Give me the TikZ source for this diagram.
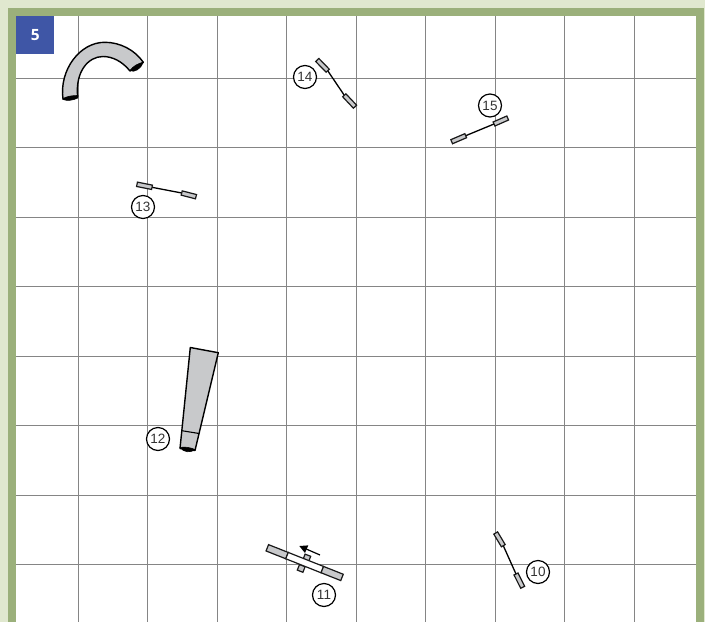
\documentclass[tikz,border=0pt]{standalone}
\usepackage{fontspec}
\setmainfont{Liberation Sans}
\newfontfamily\badgefont{Open Sans}
\usetikzlibrary{calc,arrows.meta}
\definecolor{pagebg}{HTML}{E0E8CF}
\definecolor{frameg}{HTML}{9BB07B}
\definecolor{badgeb}{HTML}{3F56A6}
\definecolor{gridc}{HTML}{858585}
\definecolor{obst}{HTML}{C8C9CB}
\tikzset{
  gridline/.style={draw=gridc,line width=.8pt},
  numlabel/.style={circle,draw=black,fill=white,line width=1.2pt,minimum size=23pt,inner sep=0pt,font=\fontsize{13.5}{15}\selectfont,text=black!80},
  wingbox/.style={draw=black!90,fill=obst,line width=1.2pt,line join=miter},
  polebar/.style={draw=black,line width=1.3pt},
  tube/.style={draw=black,fill=obst,line width=1.4pt,line join=round},
  tubemouth/.style={fill=black,draw=black,line width=.6pt},
}
% a rectangle of half width #4 along the segment from #2 to #3
\newcommand\stripbox[4][wingbox]{\draw[#1] ($(#2)!#4!90:(#3)$) -- ($(#3)!#4!-90:(#2)$) -- ($(#3)!#4!90:(#2)$) -- ($(#2)!#4!-90:(#3)$) -- cycle;}
\newcommand\jumppole[4]{%
  \draw[polebar] (#2) -- (#3);
  \stripbox{#1}{#2}{2.2pt}
  \stripbox{#3}{#4}{2.2pt}}
\begin{document}
\begin{tikzpicture}[x=1pt,y=-1pt]
\useasboundingbox (0,0) rectangle (705,622);
\fill[pagebg] (0,0) rectangle (705,622);
\fill[frameg] (8,8) rectangle (704,622);
\fill[white] (16,16) rectangle (696,622);
% grid
\foreach \gx in {78,147.5,217,286.5,356,425.5,495,564.5,634}
  \draw[gridline] (\gx,16) -- (\gx,622);
\foreach \gy in {78,147.5,217,286.5,356,425.5,495,564.5}
  \draw[gridline] (16,\gy) -- (696,\gy);
% badge
\node[fill=badgeb,text=white,minimum width=38pt,minimum height=37.5pt,inner sep=0pt,anchor=north west,font=\badgefont\bfseries\fontsize{15.5}{17}\selectfont] (badge) at (16,16) {5};
% curved tunnel
\draw[tube] (63,99) .. controls (59,70) and (80,42) .. (105,42.3) .. controls (120,42.3) and (135,50) .. (143.3,62.3)
  -- (130,71) .. controls (122,61) and (112,56.5) .. (103,56.5) .. controls (88,56.5) and (75,72) .. (77.7,97) -- cycle;
\fill[tubemouth] (63,98.5) .. controls (68,96) and (73,95.5) .. (77.7,95.5) -- (77.7,98) .. controls (73,100.5) and (67,101) .. (63,99.5) -- cycle;
\fill[tubemouth] (143.3,62.3) .. controls (139,63) and (133,66) .. (130,70.5) .. controls (134,73) and (141,69) .. (143.3,62.3) -- cycle;
% straight tunnel
\draw[tube] (190.3,347.5) -- (218.3,352.7) -- (195,450.5) -- (180,448.5) -- cycle;
\draw[black,line width=1.1pt] (181.8,430.7) -- (199.2,433.5);
\fill[tubemouth] (180,447.5) .. controls (185,446.5) and (190,447.5) .. (195,449.5) .. controls (191,452.8) and (184,452.8) .. (180,447.5) -- cycle;
% jumps 13, 14, 15, 10
\coordinate (p13a) at (137,184.3); \coordinate (p13b) at (152,187.3); \coordinate (p13c) at (181.7,193); \coordinate (p13d) at (196,196.7);
\jumppole{p13a}{p13b}{p13c}{p13d}
\coordinate (p14a) at (317.3,60); \coordinate (p14b) at (327.7,70.7); \coordinate (p14c) at (344.3,95.3); \coordinate (p14d) at (355,106.7);
\jumppole{p14a}{p14b}{p14c}{p14d}
\coordinate (p15a) at (451.7,141.7); \coordinate (p15b) at (465.7,135.7); \coordinate (p15c) at (494,124); \coordinate (p15d) at (507.7,118);
\jumppole{p15a}{p15b}{p15c}{p15d}
\coordinate (p10a) at (495.7,533); \coordinate (p10b) at (503.3,545.7); \coordinate (p10c) at (516,574); \coordinate (p10d) at (522.7,587.3);
\jumppole{p10a}{p10b}{p10c}{p10d}
% obstacle 11
\coordinate (t1a) at (304,556.9); \coordinate (t1b) at (309.6,559.1);
\coordinate (t2a) at (298.4,567.3); \coordinate (t2b) at (304,569.5);
\stripbox{t1a}{t1b}{3pt}
\stripbox{t2a}{t2b}{3pt}
\coordinate (w1) at (267.3,547.8); \coordinate (w2) at (287,555.6); \coordinate (w3) at (322.3,569.6); \coordinate (w4) at (342,577.4);
\stripbox{w1}{w2}{3.4pt}
\stripbox[wingbox,fill=white]{w2}{w3}{3.4pt}
\stripbox{w3}{w4}{3.4pt}
\coordinate (arrowtail) at (320,555); \coordinate (arrowhead) at (299.3,546);
\draw[black,line width=1.2pt,-{Triangle[length=8pt,width=8pt]}] (arrowtail) -- (arrowhead);
% labels
\node[numlabel] (n10) at (538,572) {10};
\node[numlabel] (n11) at (324,595) {11};
\node[numlabel] (n12) at (158,439) {12};
\node[numlabel] (n13) at (143,207) {13};
\node[numlabel] (n14) at (305,77) {14};
\node[numlabel] (n15) at (490,105.5) {15};
\end{tikzpicture}
\end{document}
